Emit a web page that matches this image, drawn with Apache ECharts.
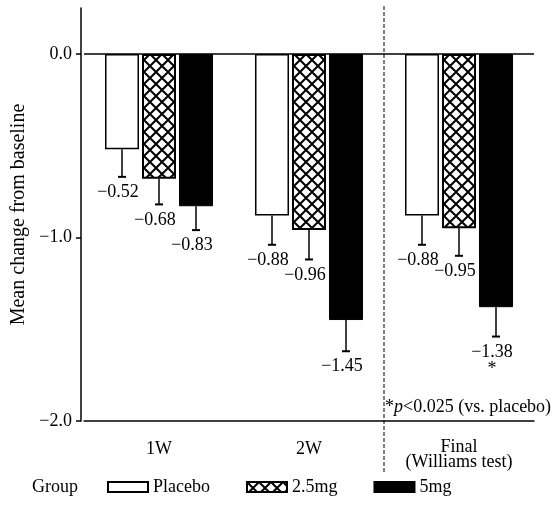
<!DOCTYPE html>
<html>
<head>
<meta charset="utf-8">
<script src="https://cdn.jsdelivr.net/npm/echarts@6/dist/echarts.min.js"></script>
<style>html,body{margin:0;padding:0;background:#fff;}#c{width:559px;height:507px;}</style>
</head>
<body>
<div id="c"></div>
<script>
// ---- data ----
const categories = ['1W', '2W', 'Final\n(Williams test)'];
const groupNames = ['Placebo', '2.5mg', '5mg'];
const placebo = [-0.52, -0.88, -0.88];
const mg25 = [-0.68, -0.96, -0.95];
const mg5 = [-0.83, -1.45, -1.38];
const placeboErr = [0.15, 0.16, 0.16];
const mg25Err = [0.14, 0.16, 0.15];
const mg5Err = [0.13, 0.17, 0.16];
const mg5Significant = [false, false, true];
const yTickValues = [-2, -1, 0];
const yAxisTitle = 'Mean change from baseline';
const legendTitle = 'Group';
const footnoteParts = ['*', 'p', '<0.025 (vs. placebo)'];

// ---- style ----
const FONT = '"Liberation Serif", "Times New Roman", serif';
const FS = 18;
const BAR_W = 34, BAR_GAP = 3;

function hatch() {
  const c = document.createElement('canvas');
  c.width = 12; c.height = 12;
  const g = c.getContext('2d');
  g.fillStyle = '#fff'; g.fillRect(0, 0, 12, 12);
  g.strokeStyle = '#000'; g.lineWidth = 2;
  g.beginPath();
  g.moveTo(-2, -2); g.lineTo(14, 14);
  g.moveTo(14, -2); g.lineTo(-2, 14);
  g.stroke();
  return c;
}

const values = [placebo, mg25, mg5];
const errs = [placeboErr, mg25Err, mg5Err];
const sig = [[false, false, false], [false, false, false], mg5Significant];

function fmt(v) { return (v < 0 ? '\u2212' : '') + Math.abs(v).toFixed(2); }

const barStyles = [
  { color: '#fff', borderColor: '#000', borderWidth: 1.5 },
  { color: { image: hatch(), repeat: 'repeat' }, borderColor: '#000', borderWidth: 2 },
  { color: '#000', borderColor: '#000', borderWidth: 1 }
];

const series = [];
groupNames.forEach((name, i) => {
  const s = {
    name: name, type: 'bar', data: values[i],
    barWidth: BAR_W, barGap: (BAR_GAP / BAR_W * 100) + '%',
    itemStyle: barStyles[i], silent: true, animation: false
  };
  if (i === 0) {
    s.markLine = {
      silent: true, symbol: 'none', animation: false,
      label: { show: false },
      lineStyle: { color: '#000', width: 1.5, type: 'solid' },
      data: [{ yAxis: 0 }]
    };
  }
  series.push(s);
});
groupNames.forEach((name, i) => {
  series.push({
    type: 'custom', silent: true, animation: false, z: 5,
    data: values[i].map((v, k) => [k, v, errs[i][k]]),
    renderItem: function (params, api) {
      const k = api.value(0), v = api.value(1), e = api.value(2);
      const off = (i - 1) * (BAR_W + BAR_GAP);
      const x = api.coord([k, 0])[0] + off;
      const y0 = api.coord([k, v])[1];
      const y1 = api.coord([k, v - e])[1];
      const txt = fmt(v) + (sig[i][k] ? '\n*' : '');
      return {
        type: 'group',
        children: [
          { type: 'line', shape: { x1: x, y1: y0, x2: x, y2: y1 }, style: { stroke: '#000', lineWidth: 1.5 } },
          { type: 'line', shape: { x1: x - 4, y1: y1, x2: x + 4, y2: y1 }, style: { stroke: '#000', lineWidth: 2 } },
          { type: 'text', x: x - 4, y: y1 + 7,
            style: { text: txt, fill: '#000', font: FS + 'px ' + FONT, textAlign: 'center', textVerticalAlign: 'top', lineHeight: 17 } }
        ]
      };
    }
  });
});

const chart = echarts.init(document.getElementById('c'));
chart.setOption({
  animation: false,
  backgroundColor: '#fff',
  grid: { left: 84, right: 25, top: 8, bottom: 86, containLabel: false },
  legend: {
    data: groupNames, left: 102, top: 473, icon: 'rect',
    itemWidth: 40, itemHeight: 10, itemGap: 36, selectedMode: false,
    textStyle: { fontFamily: FONT, fontSize: FS, color: '#000' }
  },
  xAxis: {
    type: 'category', data: categories,
    axisLine: { onZero: false, lineStyle: { color: '#000', width: 1.5 } },
    axisTick: { show: false },
    axisLabel: {
      margin: 19, fontFamily: FONT, fontSize: FS, color: '#000', lineHeight: 15,
      formatter: v => v.indexOf('\n') >= 0 ? v : '{s|' + v + '}',
      rich: { s: { fontFamily: FONT, fontSize: FS, color: '#000', padding: [4, 0, 0, 0] } }
    },
    splitLine: { show: false }
  },
  yAxis: {
    type: 'value', min: -2, max: 0.25, offset: 3,
    name: yAxisTitle, nameLocation: 'middle', nameGap: 44, nameRotate: 90,
    nameTextStyle: { fontFamily: FONT, fontSize: 20, color: '#000' },
    axisLine: { show: true, lineStyle: { color: '#000', width: 1.5 } },
    axisTick: { show: true, inside: false, length: 5, lineStyle: { color: '#000', width: 1.5 }, customValues: yTickValues },
    axisLabel: { margin: 9, fontFamily: FONT, fontSize: FS, color: '#000', customValues: yTickValues,
      formatter: v => (v < 0 ? '\u2212' : '') + Math.abs(v).toFixed(1) },
    splitLine: { show: false }
  },
  series: series
});

// separator between 2W and Final, footnote, legend title
const xa = chart.convertToPixel({ xAxisIndex: 0 }, 1);
const xb = chart.convertToPixel({ xAxisIndex: 0 }, 2);
const sepX = (xa + xb) / 2;
const yBottom = chart.convertToPixel({ yAxisIndex: 0 }, -2);
const yTop = chart.convertToPixel({ yAxisIndex: 0 }, 0.25);
chart.setOption({
  graphic: [
    { type: 'line', silent: true, shape: { x1: sepX, y1: yTop - 2, x2: sepX, y2: yBottom + 52 },
      style: { stroke: '#000', lineWidth: 1, lineDash: [4, 2] } },
    { type: 'text', silent: true, x: sepX + 1, y: yBottom - 5,
      style: {
        text: '{a|' + footnoteParts[0] + '}{i|' + footnoteParts[1] + '}{a|' + footnoteParts[2] + '}',
        rich: {
          a: { fontFamily: FONT, fontSize: FS, color: '#000' },
          i: { fontFamily: FONT, fontSize: FS, fontStyle: 'italic', color: '#000' }
        },
        fill: '#000', font: FS + 'px ' + FONT, textAlign: 'left', textVerticalAlign: 'bottom' } },
    { type: 'text', silent: true, x: 32, y: 487,
      style: { text: legendTitle, fill: '#000', font: FS + 'px ' + FONT, textAlign: 'left', textVerticalAlign: 'middle' } }
  ]
});
</script>
</body>
</html>
